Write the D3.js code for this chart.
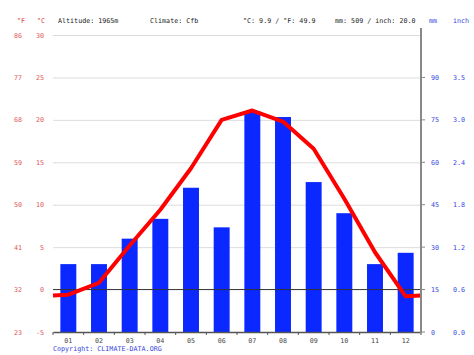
<!DOCTYPE html>
<html><head><meta charset="utf-8">
<script src="https://cdn.jsdelivr.net/npm/d3@7"></script>
<style>body{margin:0;background:#fff}svg{display:block}text{font-family:"DejaVu Sans Mono",monospace;font-size:6.7px}</style>
</head><body><svg id="c" width="474" height="355"></svg>
<script>
const months = ["01","02","03","04","05","06","07","08","09","10","11","12"];
const precipMM = [24,24,33,40,51,37,78,76,53,42,24,28];
const tempC = [-0.6,0.8,5.2,9.4,14.3,20.0,21.1,19.8,16.6,10.7,4.4,-0.8];
const cTicks = [-5,0,5,10,15,20,25,30];
const fTicks = [23,32,41,50,59,68,77,86];
const mmTicks = [0,15,30,45,60,75,90];
const inchTicks = ["0.0","0.6","1.2","1.8","2.4","3.0","3.5"];
const header = [
  {t:"°F", x:17, c:"#e04040"}, {t:"°C", x:37, c:"#e04040"},
  {t:"Altitude: 1965m", x:58, c:"#222"}, {t:"Climate: Cfb", x:150, c:"#222"},
  {t:"°C: 9.9 / °F: 49.9", x:243, c:"#222"}, {t:"mm: 509 / inch: 20.0", x:335, c:"#222"},
  {t:"mm", x:429, c:"#3344dd"}, {t:"inch", x:453, c:"#3344dd"}
];

const svg = d3.select("#c");
const L = 53, R = 421, T = 35, B = 332;
const x = d3.scaleBand().domain(months).range([L, R]).paddingInner(0.48).paddingOuter(0.24);
const xc = d3.scaleBand().domain(months).range([L, R]);
const yT = d3.scaleLinear().domain([-5, 30]).range([B, T]);
const yP = d3.scaleLinear().domain([0, 105]).range([B, T]);

// header
svg.selectAll("text.h").data(header).join("text").attr("class","h")
  .attr("x", d=>d.x).attr("y", 23).attr("fill", d=>d.c).text(d=>d.t);

// grid
svg.selectAll("line.g").data(cTicks.filter(v=>v!==0 && v!==-5)).join("line").attr("class","g")
  .attr("x1", L).attr("x2", R).attr("y1", d=>yT(d)+0.5).attr("y2", d=>yT(d)+0.5)
  .attr("stroke", "#dcdcdc").attr("stroke-width", 1);

// left labels
svg.selectAll("text.c").data(cTicks).join("text").attr("class","c")
  .attr("x", 44).attr("y", d=>yT(d)+2.5).attr("text-anchor","end").attr("fill","#e05555").text(d=>d);
svg.selectAll("text.f").data(fTicks).join("text").attr("class","f")
  .attr("x", 22).attr("y", (d,i)=>yT(cTicks[i])+2.5).attr("text-anchor","end").attr("fill","#e05555").text(d=>d);

// bars
svg.selectAll("rect.b").data(precipMM).join("rect").attr("class","b")
  .attr("x", (d,i)=>x(months[i])).attr("width", x.bandwidth())
  .attr("y", d=>yP(d)).attr("height", d=>B - yP(d)).attr("fill", "#0a28ff");

// zero line
svg.append("line").attr("x1", L).attr("x2", R).attr("y1", yT(0)).attr("y2", yT(0))
  .attr("stroke", "#333").attr("stroke-width", 1);

// temp line with extended ends
const edge = (tempC[0] + tempC[11]) / 2;
const pts = [[L, yT(edge)]].concat(tempC.map((v,i)=>[xc(months[i]) + xc.bandwidth()/2, yT(v)])).concat([[R, yT(edge)]]);
svg.append("path").attr("d", d3.line()(pts)).attr("fill","none")
  .attr("stroke","#f00").attr("stroke-width", 4).attr("stroke-linejoin","round");

// bottom axis
const bx = svg.append("g").attr("transform", `translate(0,${B})`)
  .call(d3.axisBottom(xc).tickSize(0).tickPadding(6));
bx.select(".domain").attr("stroke", "#555").attr("stroke-width", 1.5);
bx.selectAll("text").attr("fill", "#444").style("font-size","6.7px").style("font-family","DejaVu Sans Mono, monospace");
svg.selectAll("line.bt").data(d3.range(13)).join("line").attr("class","bt")
  .attr("x1", d=>L + d*xc.step()).attr("x2", d=>L + d*xc.step()).attr("y1", B).attr("y2", B+3)
  .attr("stroke", "#555");

// right axis
svg.append("line").attr("x1", R).attr("x2", R).attr("y1", 28).attr("y2", B+1)
  .attr("stroke", "#888").attr("stroke-width", 2);
svg.selectAll("line.rt").data(mmTicks).join("line").attr("class","rt")
  .attr("x1", R).attr("x2", R+4).attr("y1", d=>yP(d)).attr("y2", d=>yP(d)).attr("stroke","#888");
svg.selectAll("text.mm").data(mmTicks).join("text").attr("class","mm")
  .attr("x", 431).attr("y", d=>yP(d)+2.5).attr("fill","#3344dd").text(d=>d);
svg.selectAll("text.in").data(inchTicks).join("text").attr("class","in")
  .attr("x", 453).attr("y", (d,i)=>yP(mmTicks[i])+2.5).attr("fill","#3344dd").text(d=>d);

// copyright
svg.append("text").attr("x", 53).attr("y", 351).attr("fill", "#3344dd").text("Copyright: CLIMATE-DATA.ORG");
</script></body></html>
